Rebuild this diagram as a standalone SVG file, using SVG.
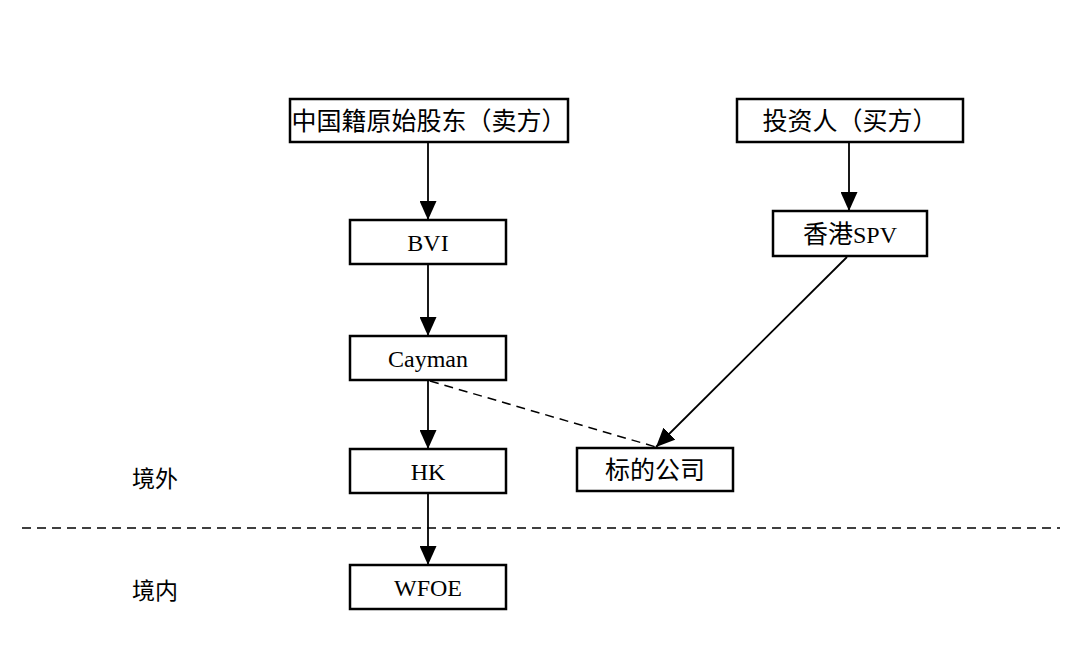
<svg xmlns="http://www.w3.org/2000/svg" width="1088" height="672" viewBox="0 0 1088 672">
<style>
.box{fill:#fff;stroke:#000;stroke-width:2.5}
.cjk{font-family:"Noto Sans CJK SC","Noto Sans",sans-serif;font-size:25px;fill:#000}
.lat{font-family:"Liberation Serif","Times New Roman",serif;font-size:24px;fill:#000}
.ln{stroke:#000;stroke-width:1.8;fill:none}
.dash{stroke:#000;stroke-width:1.5;fill:none;stroke-dasharray:9 6}
</style>
<defs>
<marker id="ah" viewBox="0 0 19 17" refX="19" refY="8.5" markerWidth="19" markerHeight="17" orient="auto" markerUnits="userSpaceOnUse">
<path d="M0,0 L19,8.5 L0,17 Z" fill="#000"/>
</marker>
</defs>
<rect width="1088" height="672" fill="#fff"/>
<g id="connectors">
<line class="ln" x1="428" y1="142" x2="428" y2="220" marker-end="url(#ah)"/>
<line class="ln" x1="428" y1="264" x2="428" y2="336" marker-end="url(#ah)"/>
<line class="ln" x1="428" y1="380" x2="428" y2="449" marker-end="url(#ah)"/>
<line class="ln" x1="428" y1="493" x2="428" y2="565" marker-end="url(#ah)"/>
<line class="ln" x1="849" y1="142" x2="849" y2="211" marker-end="url(#ah)"/>
<line class="ln" x1="847" y1="257" x2="656" y2="447" marker-end="url(#ah)"/>
<line class="dash" x1="430" y1="381" x2="656" y2="447"/>
<line class="dash" x1="22" y1="528" x2="1060" y2="528"/>
</g>
<g id="n-seller">
<rect class="box" x="290" y="99" width="278" height="43"/>
<text class="cjk" x="429" y="130" text-anchor="middle">中国籍原始股东（卖方）</text>
</g>
<g id="n-buyer">
<rect class="box" x="737" y="99" width="226" height="43"/>
<text class="cjk" x="850" y="130" text-anchor="middle">投资人（买方）</text>
</g>
<g id="n-bvi">
<rect class="box" x="350" y="220" width="156" height="44"/>
<text class="lat" x="428" y="251" text-anchor="middle">BVI</text>
</g>
<g id="n-spv">
<rect class="box" x="773" y="211" width="154" height="45"/>
<text x="850" y="243" text-anchor="middle"><tspan class="cjk">香港</tspan><tspan class="lat">SPV</tspan></text>
</g>
<g id="n-cayman">
<rect class="box" x="350" y="336" width="156" height="44"/>
<text class="lat" x="428" y="367" text-anchor="middle">Cayman</text>
</g>
<g id="n-hk">
<rect class="box" x="350" y="449" width="156" height="44"/>
<text class="lat" x="428" y="480" text-anchor="middle">HK</text>
</g>
<g id="n-target">
<rect class="box" x="577" y="448" width="156" height="43"/>
<text class="cjk" x="655" y="479" text-anchor="middle">标的公司</text>
</g>
<g id="n-wfoe">
<rect class="box" x="350" y="565" width="156" height="44"/>
<text class="lat" x="428" y="596" text-anchor="middle">WFOE</text>
</g>
<g id="labels">
<text class="cjk" x="132" y="487" style="font-size:23px">境外</text>
<text class="cjk" x="132" y="599" style="font-size:23px">境内</text>
</g>
</svg>
